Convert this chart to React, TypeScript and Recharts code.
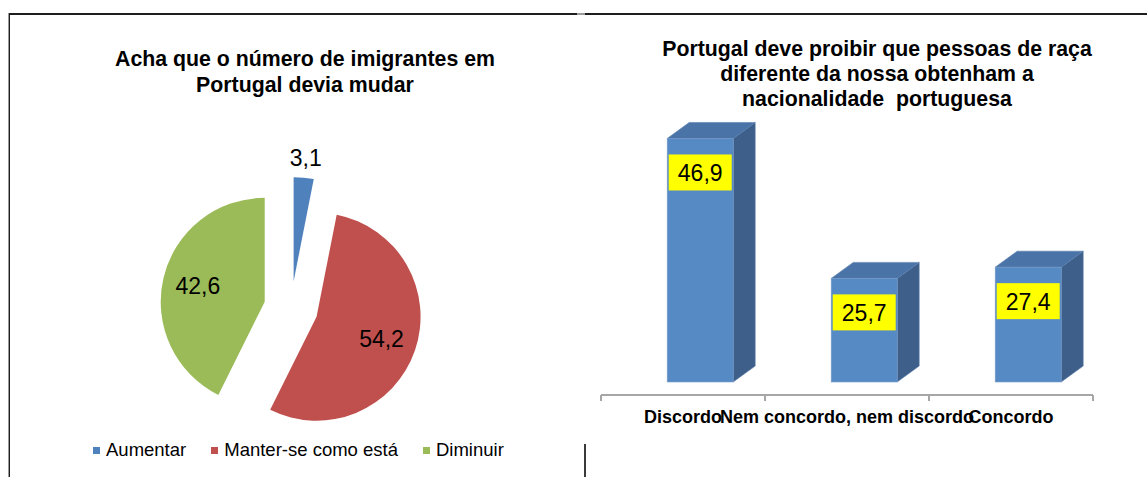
import React from "react";
import { PieChart, Pie, Cell, BarChart, Bar, XAxis, YAxis, LabelList } from "recharts";

// left chart: "Acha que o número de imigrantes..."
const pieCategories = ["Aumentar", "Manter-se como está", "Diminuir"];
const pieValues = [3.1, 54.2, 42.6];
const pieColors = ["#4F81BD", "#C0504D", "#9BBB59"];

// right chart: "Portugal deve proibir..."
const barCategories = ["Discordo", "Nem concordo, nem discordo", "Concordo"];
const barValues = [46.9, 25.7, 27.4];
const barDomain = [10, 50];

const FONT = '"Liberation Sans", Arial, sans-serif';
const RAD = Math.PI / 180;

const PIE_CX = 286;
const PIE_CY = 303;
const PIE_R = 104;
const EXPLODE = 27;

// 3d look of the columns
const FLOOR_DX = 17;
const FLOOR_DY = -13;
const DEPTH_X = 22;
const DEPTH_Y = 16;

const fmt = (v: number) => String(v).replace(".", ",");

const pieData = pieCategories.map((name, i) => ({ name, value: pieValues[i] }));
const barData = barCategories.map((name, i) => ({ name, value: barValues[i] }));

// bisector of every slice, clockwise from 12 o'clock
const pieTotal = pieValues.reduce((a, b) => a + b, 0);
const midAngles = pieValues.map((v, i) => {
  const before = pieValues.slice(0, i).reduce((a, b) => a + b, 0);
  return ((before + v / 2) / pieTotal) * 360;
});

const makePieLabel = (k: number) => (props: any) => {
  const { cx, cy, midAngle, outerRadius, percent, value, index } = props;
  if (index !== k) return null;
  const r = percent < 0.05 ? outerRadius + 20 : outerRadius * 0.66;
  const x = cx + r * Math.cos(-midAngle * RAD);
  const y = cy + r * Math.sin(-midAngle * RAD);
  return (
    <text x={x} y={y} textAnchor="middle" dominantBaseline="central" fontSize={23} fontFamily={FONT} fill="#000">
      {fmt(value)}
    </text>
  );
};

const Bar3D = (props: any) => {
  const { x, y, width, height } = props;
  const fx = x + FLOOR_DX;
  const fy = y + FLOOR_DY;
  const side = `${fx + width},${fy} ${fx + width + DEPTH_X},${fy - DEPTH_Y} ${fx + width + DEPTH_X},${fy + height - DEPTH_Y} ${fx + width},${fy + height}`;
  const top = `${fx},${fy} ${fx + DEPTH_X},${fy - DEPTH_Y} ${fx + width + DEPTH_X},${fy - DEPTH_Y} ${fx + width},${fy}`;
  return (
    <g>
      <polygon points={side} fill="#3D5F89" stroke="#5A7FAE" strokeWidth={0.6} />
      <polygon points={top} fill="#4A73A8" stroke="#5A7FAE" strokeWidth={0.6} />
      <rect x={fx} y={fy} width={width} height={height} fill="#568AC4" stroke="#7A9CC8" strokeWidth={0.6} />
    </g>
  );
};

const YellowLabel = (props: any) => {
  const { x, y, width, value } = props;
  const cx = x + FLOOR_DX + width / 2;
  const cy = y + FLOOR_DY + 34;
  return (
    <g>
      <rect x={cx - 31.5} y={cy - 18} width={63} height={36} fill="#FFFF00" />
      <text x={cx} y={cy + 1} textAnchor="middle" dominantBaseline="central" fontSize={23} fontFamily={FONT} fill="#000">
        {fmt(value)}
      </text>
    </g>
  );
};

const CategoryTick = (props: any) => {
  const { x, y, payload, index, visibleTicksCount } = props;
  const off = payload.offset || 0;
  const last = index === visibleTicksCount - 1;
  return (
    <g>
      <line x1={x - off} y1={y} x2={x - off} y2={y + 6} stroke="#A6A6A6" strokeWidth={2} />
      {last && <line x1={x + off} y1={y} x2={x + off} y2={y + 6} stroke="#A6A6A6" strokeWidth={2} />}
      <text x={x} y={y + 22} textAnchor="middle" dominantBaseline="central" fontSize={18} fontWeight="bold" fontFamily={FONT} fill="#000">
        {payload.value}
      </text>
    </g>
  );
};

const titleStyle: React.CSSProperties = {
  position: "absolute",
  textAlign: "center",
  fontFamily: FONT,
  fontWeight: "bold",
  fontSize: 21.3,
  lineHeight: "25px",
  color: "#000",
};

export default function App() {
  return (
    <div style={{ position: "absolute", left: 0, top: 0, width: 1147, height: 477, background: "#fff", overflow: "hidden", fontFamily: FONT }}>
      {/* frame */}
      <div style={{ position: "absolute", left: 9, top: 13, width: 1138, height: 2, background: "#1E1E1E" }} />
      <div style={{ position: "absolute", left: 8, top: 13, width: 1, height: 464, background: "#9A9A9A" }} />
      <div style={{ position: "absolute", left: 9, top: 13, width: 1, height: 464, background: "#1E1E1E" }} />
      <div style={{ position: "absolute", left: 577, top: 13, width: 8, height: 2, background: "#9A9A9A" }} />
      <div style={{ position: "absolute", left: 584, top: 444, width: 2, height: 33, background: "#3A3A3A" }} />

      {/* left: pie */}
      <div style={{ ...titleStyle, left: 55, top: 46, width: 500, lineHeight: "26px" }}>
        Acha que o número de imigrantes em
        <br />
        Portugal devia mudar
      </div>
      <div style={{ position: "absolute", left: 0, top: 0 }}>
        <PieChart width={580} height={440}>
          {pieCategories.map((_, k) => (
            <Pie
              key={k}
              data={pieData}
              dataKey="value"
              nameKey="name"
              cx={PIE_CX + EXPLODE * Math.sin(midAngles[k] * RAD)}
              cy={PIE_CY - EXPLODE * Math.cos(midAngles[k] * RAD)}
              outerRadius={PIE_R}
              startAngle={90}
              endAngle={-270}
              stroke="none"
              labelLine={false}
              label={makePieLabel(k)}
              isAnimationActive={false}
            >
              {pieData.map((_, i) => (
                <Cell key={i} fill={i === k ? pieColors[i] : "transparent"} />
              ))}
            </Pie>
          ))}
        </PieChart>
      </div>
      <div style={{ position: "absolute", left: 93, top: 439, display: "flex", alignItems: "center", fontSize: 18.5, color: "#000" }}>
        {pieCategories.map((c, i) => (
          <div key={c} style={{ display: "flex", alignItems: "center", marginRight: 25, lineHeight: "22px" }}>
            <span style={{ width: 7, height: 7, background: pieColors[i], marginRight: 6 }} />
            {c}
          </div>
        ))}
      </div>

      {/* right: 3d columns */}
      <div style={{ ...titleStyle, left: 627, top: 37, width: 500 }}>
        Portugal deve proibir que pessoas de raça
        <br />
        diferente da nossa obtenham a
        <br />
        nacionalidade&nbsp; portuguesa
      </div>
      <div style={{ position: "absolute", left: 590, top: 100 }}>
        <BarChart width={520} height={340} data={barData} margin={{ top: 31, right: 17, bottom: 15, left: 11 }} barCategoryGap="30%">
          <XAxis
            dataKey="name"
            height={30}
            interval={0}
            tickSize={0}
            tickMargin={0}
            tickLine={false}
            axisLine={{ stroke: "#A6A6A6", strokeWidth: 2 }}
            tick={<CategoryTick />}
          />
          <YAxis hide domain={barDomain} />
          <Bar dataKey="value" shape={<Bar3D />} isAnimationActive={false}>
            <LabelList dataKey="value" content={<YellowLabel />} />
          </Bar>
        </BarChart>
      </div>
    </div>
  );
}
